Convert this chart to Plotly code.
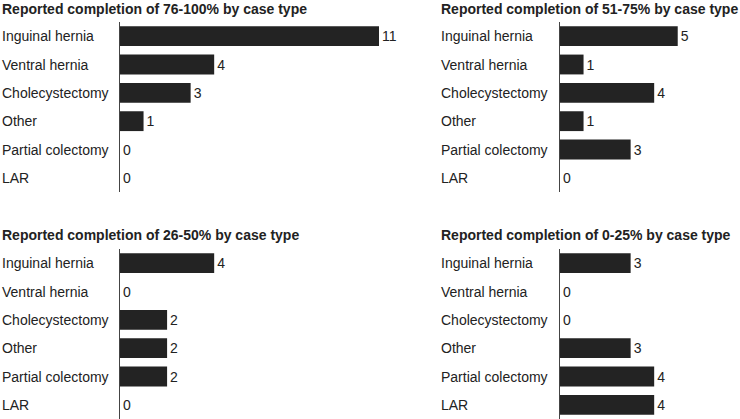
import plotly.graph_objects as go

categories = ["Inguinal hernia", "Ventral hernia", "Cholecystectomy", "Other", "Partial colectomy", "LAR"]
titles = [
    "Reported completion of 76-100% by case type",
    "Reported completion of 51-75% by case type",
    "Reported completion of 26-50% by case type",
    "Reported completion of 0-25% by case type",
]
vals_76_100 = [11, 4, 3, 1, 0, 0]
vals_51_75 = [5, 1, 4, 1, 3, 0]
vals_26_50 = [4, 0, 2, 2, 2, 0]
vals_0_25 = [3, 0, 0, 3, 4, 4]
series = [vals_76_100, vals_51_75, vals_26_50, vals_0_25]

W, H = 740, 419
BAR = "#232323"
FONT = "Liberation Sans, Arial, Helvetica, sans-serif"
scale = 259 / 11.0  # px per unit

# panel geometry in px: (label_x, axis_x, top_px, bottom_px, title_y)
panels = [
    (0, 120, 22, 192, 9),
    (439, 560, 22, 192, 9),
    (0, 120, 249, 419, 235),
    (439, 560, 249, 419, 235),
]

fig = go.Figure()
layout = dict(
    width=W, height=H, margin=dict(l=0, r=0, t=0, b=0),
    paper_bgcolor="white", plot_bgcolor="white",
    showlegend=False, bargap=0.3,
    font=dict(family=FONT, size=14, color="#222"),
)
annotations = []
for i, (vals, (lx, ax, top, bot, ty)) in enumerate(zip(series, panels)):
    n = i + 1
    xa = "x" if n == 1 else f"x{n}"
    ya = "y" if n == 1 else f"y{n}"
    xend = min(W, ax + 259)
    xmax = (xend - ax) / scale
    fig.add_trace(go.Bar(
        x=vals, y=categories, orientation="h", marker=dict(color=BAR, line=dict(width=0)),
        text=[str(v) for v in vals], textposition="outside", cliponaxis=False,
        textfont=dict(size=14, color="#222"), xaxis=xa, yaxis=ya, hoverinfo="skip",
    ))
    layout["xaxis" if n == 1 else f"xaxis{n}"] = dict(
        domain=[ax / W, xend / W], range=[0, xmax], visible=False, anchor=ya,
    )
    layout["yaxis" if n == 1 else f"yaxis{n}"] = dict(
        domain=[1 - bot / H, 1 - top / H], autorange="reversed", anchor=xa,
        showticklabels=False, ticks="", showgrid=False, zeroline=False,
        showline=True, linecolor="#444", linewidth=1,
        categoryorder="array", categoryarray=categories,
    )
    for c in categories:
        annotations.append(dict(
            x=lx / W, xref="paper", y=c, yref=ya, text=c, showarrow=False,
            xanchor="left", yanchor="middle", font=dict(size=14, color="#222"),
        ))
    annotations.append(dict(
        x=lx / W, xref="paper", y=1 - ty / H, yref="paper", text="<b>" + titles[i] + "</b>",
        showarrow=False, xanchor="left", yanchor="middle", font=dict(size=14, color="#222"),
    ))

layout["annotations"] = annotations
fig.update_layout(**layout)
fig.write_html(
    "out.html",
    config={"displayModeBar": False},
    post_script="document.body.style.margin='0';document.body.style.overflow='hidden';",
)
